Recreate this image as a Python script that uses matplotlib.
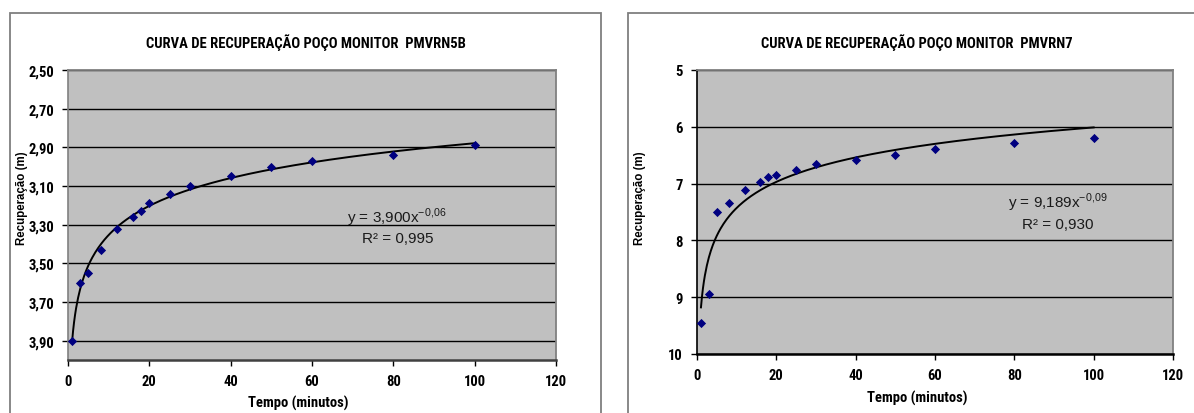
import numpy as np
import matplotlib
matplotlib.use("Agg")
import matplotlib.pyplot as plt
from matplotlib.patches import Rectangle
from matplotlib.ticker import FuncFormatter, MultipleLocator

# ---------------- data ----------------
tempo = [1, 3, 5, 8, 12, 16, 18, 20, 25, 30, 40, 50, 60, 80, 100]
rec_pmvrn5b = [3.90, 3.60, 3.55, 3.43, 3.32, 3.26, 3.23, 3.19, 3.14, 3.10, 3.05, 3.00, 2.97, 2.94, 2.89]
rec_pmvrn7 = [9.45, 8.95, 7.50, 7.34, 7.12, 6.97, 6.89, 6.84, 6.76, 6.65, 6.59, 6.49, 6.39, 6.28, 6.19]

titles = ["CURVA DE RECUPERAÇÃO POÇO MONITOR  PMVRN5B",
          "CURVA DE RECUPERAÇÃO POÇO MONITOR  PMVRN7"]
eq_texts = [r"y = 3,900x$^{\mathregular{-0{,}06}}$", r"y = 9,189x$^{\mathregular{-0{,}09}}$"]
r2_texts = ["R² = 0,995", "R² = 0,930"]
xlabel = "Tempo (minutos)"
ylabel = "Recuperação (m)"

W, H = 1194, 414
fig = plt.figure(figsize=(W / 100, H / 100), dpi=100)

narrow = ["Roboto Condensed", "Liberation Sans", "DejaVu Sans"]
regular = ["Liberation Sans", "DejaVu Sans"]

def fx(px):
    return px / W

def fy(py):
    return 1 - py / H

# chart frames
for x0, x1 in [(10, 601), (628, 1210)]:
    fig.patches.append(Rectangle((fx(x0), fy(430)), fx(x1 - x0), (430 - 14) / H,
                                 transform=fig.transFigure, fill=False,
                                 edgecolor="#7f7f7f", linewidth=1.3))

def power_fit(x, y):
    b, loga = np.polyfit(np.log(x), np.log(y), 1)
    return np.exp(loga), b

configs = [
    dict(y=rec_pmvrn5b, rect=(68, 71, 556, 361), ylim=(4.0, 2.5), yticks=np.arange(2.5, 3.95, 0.2),
         fmt=lambda v, p: f"{v:.2f}".replace(".", ","), title_x=306, ylab_x=22, xlab=(298, 403),
         eq=(397, 218), r2=(398, 239), spine="#808080"),
    dict(y=rec_pmvrn7, rect=(697, 71, 1173, 355), ylim=(10, 5), yticks=np.arange(5, 10.5, 1),
         fmt=lambda v, p: f"{v:.0f}", title_x=917, ylab_x=640, xlab=(917, 398),
         eq=(1058, 203), r2=(1058, 225), spine="black"),
]

for i, c in enumerate(configs):
    l, t, r, b = c["rect"]
    ax = fig.add_axes([fx(l), fy(b), fx(r - l), (b - t) / H])
    ax.set_facecolor("#c0c0c0")
    ax.set_xlim(0, 120)
    ax.set_ylim(*c["ylim"])
    ax.set_yticks(c["yticks"])
    ax.xaxis.set_major_locator(MultipleLocator(20))
    ax.yaxis.set_major_formatter(FuncFormatter(c["fmt"]))
    ax.grid(axis="y", color="black", linewidth=1.0)
    ax.set_axisbelow(True)
    for s in ["top", "right"]:
        ax.spines[s].set_color("#808080")
        ax.spines[s].set_linewidth(1.3)
    ax.spines["left"].set_color(c["spine"])
    ax.spines["bottom"].set_color("#404040" if i == 0 else "black")
    ax.spines["left"].set_linewidth(1.2)
    ax.spines["bottom"].set_linewidth(1.8)
    ax.tick_params(direction="out", length=4, width=1, color="black", pad=6)
    for lab in ax.get_xticklabels() + ax.get_yticklabels():
        lab.set_fontfamily(narrow)
        lab.set_fontweight("bold")
        lab.set_fontsize(10.5)

    # trend line (power fit)
    a, bexp = power_fit(np.array(tempo, float), np.array(c["y"], float))
    xs = np.linspace(tempo[0], tempo[-1], 400)
    ax.plot(xs, a * xs ** bexp, color="black", linewidth=1.4, zorder=3)
    ax.scatter(tempo, c["y"], marker="D", s=22, color="#000080", zorder=4, linewidths=0)

    fig.text(fx(c["title_x"]), fy(43), titles[i], ha="center", va="center",
             fontfamily=narrow, fontweight="bold", fontsize=10.5)
    fig.text(fx(c["ylab_x"]), fy(198), ylabel, rotation=90, ha="center", va="center",
             fontfamily=regular, fontweight="bold", fontsize=8.3)
    fig.text(fx(c["xlab"][0]), fy(c["xlab"][1]), xlabel, ha="center", va="center",
             fontfamily=narrow, fontweight="bold", fontsize=10.5)
    fig.text(fx(c["eq"][0]), fy(c["eq"][1]), eq_texts[i], ha="center", va="center",
             fontfamily=regular, fontsize=11, color="#1a1a1a")
    fig.text(fx(c["r2"][0]), fy(c["r2"][1]), r2_texts[i], ha="center", va="center",
             fontfamily=regular, fontsize=11, color="#1a1a1a")

fig.savefig("out.png", dpi=100)
